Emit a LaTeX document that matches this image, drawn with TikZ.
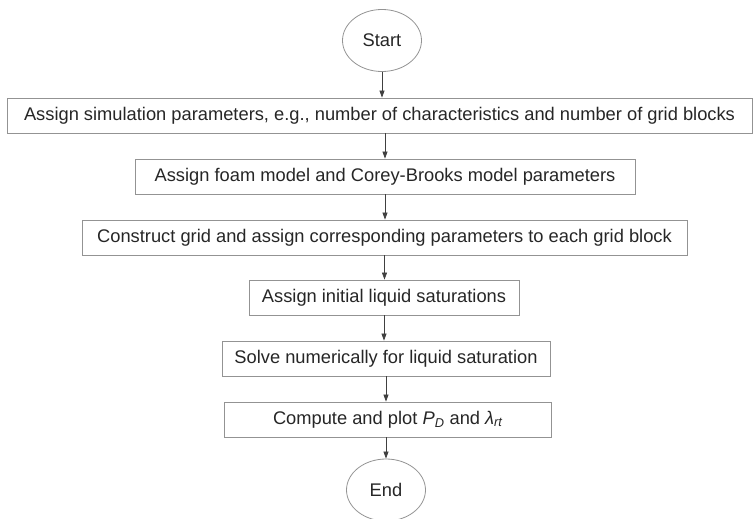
\documentclass[tikz,border=0pt]{standalone}
\usepackage{fontspec}
\setmainfont{Liberation Sans}
\usetikzlibrary{shapes.geometric, arrows.meta}

\begin{document}
\begin{tikzpicture}[x=1pt, y=-1pt,
    box/.style={draw=gray!85, line width=0.8pt, minimum height=35pt, inner sep=0pt,
      text=black!85, font=\fontsize{18.3}{21}\selectfont},
    term/.style={box, ellipse, minimum width=79pt, minimum height=62pt},
    flow/.style={-{Triangle[length=7pt, width=5pt]}, line width=0.7pt, black!75}]
  \useasboundingbox (0,0) rectangle (753,519);
  % start and end
  \node[term] (start) at (382,40.5) {Start};
  \node[term] (end) at (386,490) {End};
  % steps
  \node[box, minimum width=745pt] (sim) at (379.5,115.5)
    {Assign simulation parameters, e.g., number of characteristics and number of grid blocks};
  \node[box, minimum width=500pt] (model) at (385,176.5)
    {Assign foam model and Corey-Brooks model parameters};
  \node[box, minimum width=605pt] (grid) at (384.5,237.5)
    {Construct grid and assign corresponding parameters to each grid block};
  \node[box, minimum width=270pt] (init) at (384,297.5)
    {Assign initial liquid saturations};
  \node[box, minimum width=328pt] (solve) at (386,358.5)
    {Solve numerically for liquid saturation};
  \node[box, minimum width=327pt] (plot) at (388,419.5)
    {Compute and plot \textit{P}\textsubscript{\textit{D}} and \textit{λ}\textsubscript{\textit{rt}}};
  % arrows
  \draw[flow] (start.south) -- (start.south |- sim.north);
  \draw[flow] (sim.south -| model.north) -- (model.north);
  \draw[flow] (model.south) -- (model.south |- grid.north);
  \draw[flow] (grid.south) -- (grid.south |- init.north);
  \draw[flow] (init.south) -- (init.south |- solve.north);
  \draw[flow] (solve.south) -- (solve.south |- plot.north);
  \draw[flow] (plot.south -| end.north) -- (end.north);
\end{tikzpicture}
\end{document}
